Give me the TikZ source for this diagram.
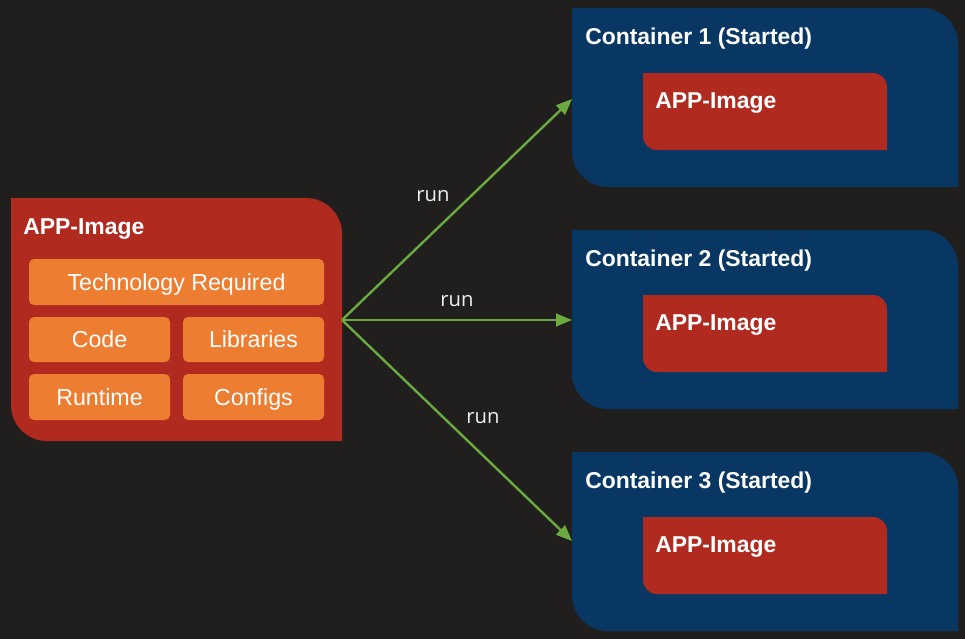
\documentclass[tikz,border=0pt]{standalone}
\usepackage{fontspec}
\setmainfont{Liberation Sans}
\newfontfamily\runfont{Open Sans}
\usetikzlibrary{arrows.meta}
\definecolor{bgc}{HTML}{201F1E}
\definecolor{imgred}{HTML}{B02A20}
\definecolor{orng}{HTML}{ED7D31}
\definecolor{navy}{HTML}{073762}
\definecolor{arrgreen}{HTML}{6AAA40}
\newcommand\tcshape[6]{%
  \pgfmathsetmacro\myra{#6}\pgfmathsetmacro\myrb{#6*0.4477}%
  \fill[#1] (#2,#3) -- ({#4-\myra},#3) .. controls ({#4-\myrb},#3) and (#4,{#3+\myrb}) .. (#4,{#3+\myra})
    -- (#4,#5) -- ({#2+\myra},#5) .. controls ({#2+\myrb},#5) and (#2,{#5-\myrb}) .. (#2,{#5-\myra}) -- cycle;}
\tikzset{
  title/.style={anchor=base west, inner sep=0pt, text=white, font=\fontsize{17.2}{20}\selectfont\bfseries},
  obox/.style={fill=orng, rounded corners=3.8pt, inner sep=0pt, text height=12.4pt, text depth=0pt, text=white, font=\fontsize{17.4}{20}\selectfont},
  runlbl/.style={inner sep=0pt, text=white!94!black, font=\runfont\fontsize{15.2}{18}\selectfont},
  runarrow/.style={draw=arrgreen, line width=1.8pt, -{Triangle[length=12pt,width=9.5pt]}},
}
\begin{document}
\begin{tikzpicture}[x=0.75pt,y=-0.75pt]
\fill[bgc] (0,0) rectangle (965,639);
\useasboundingbox (0,0) rectangle (965,639);
% left image
\tcshape{imgred}{11}{198}{342}{441}{36}
\node[title] (ltitle) at (23,234) {APP-Image};
\node[obox, minimum width=221.25pt, minimum height=34.5pt] (tech) at (176.5,282) {Technology Required};
\node[obox, minimum width=105.75pt, minimum height=33.75pt] (code) at (99.5,339.5) {Code};
\node[obox, minimum width=105.75pt, minimum height=33.75pt] (libs) at (253.5,339.5) {Libraries};
\node[obox, minimum width=105.75pt, minimum height=34.5pt] (rt) at (99.5,397) {Runtime};
\node[obox, minimum width=105.75pt, minimum height=34.5pt] (cfg) at (253.5,397) {Configs};
% containers
\foreach \i/\dy in {1/0,2/222,3/444}{
  \tcshape{navy}{572}{8+\dy}{958}{187+\dy}{36}
  \tcshape{imgred}{643}{73+\dy}{887}{150+\dy}{14}
  \node[title] (ct\i) at (585,44+\dy) {Container \i\ (Started)};
  \node[title] (it\i) at (655,108+\dy) {APP-Image};
}
\coordinate (src) at (342,320);
\coordinate (t1) at (572,99);
\coordinate (t2) at (572,320);
\coordinate (t3) at (572,541);
\draw[runarrow] (src) -- (t1);
\draw[runarrow] (src) -- (t2);
\draw[runarrow] (src) -- (t3);
\node[runlbl] (r1) at (433,196) {run};
\node[runlbl] (r2) at (457,301) {run};
\node[runlbl] (r3) at (483,418) {run};
\end{tikzpicture}
\end{document}
